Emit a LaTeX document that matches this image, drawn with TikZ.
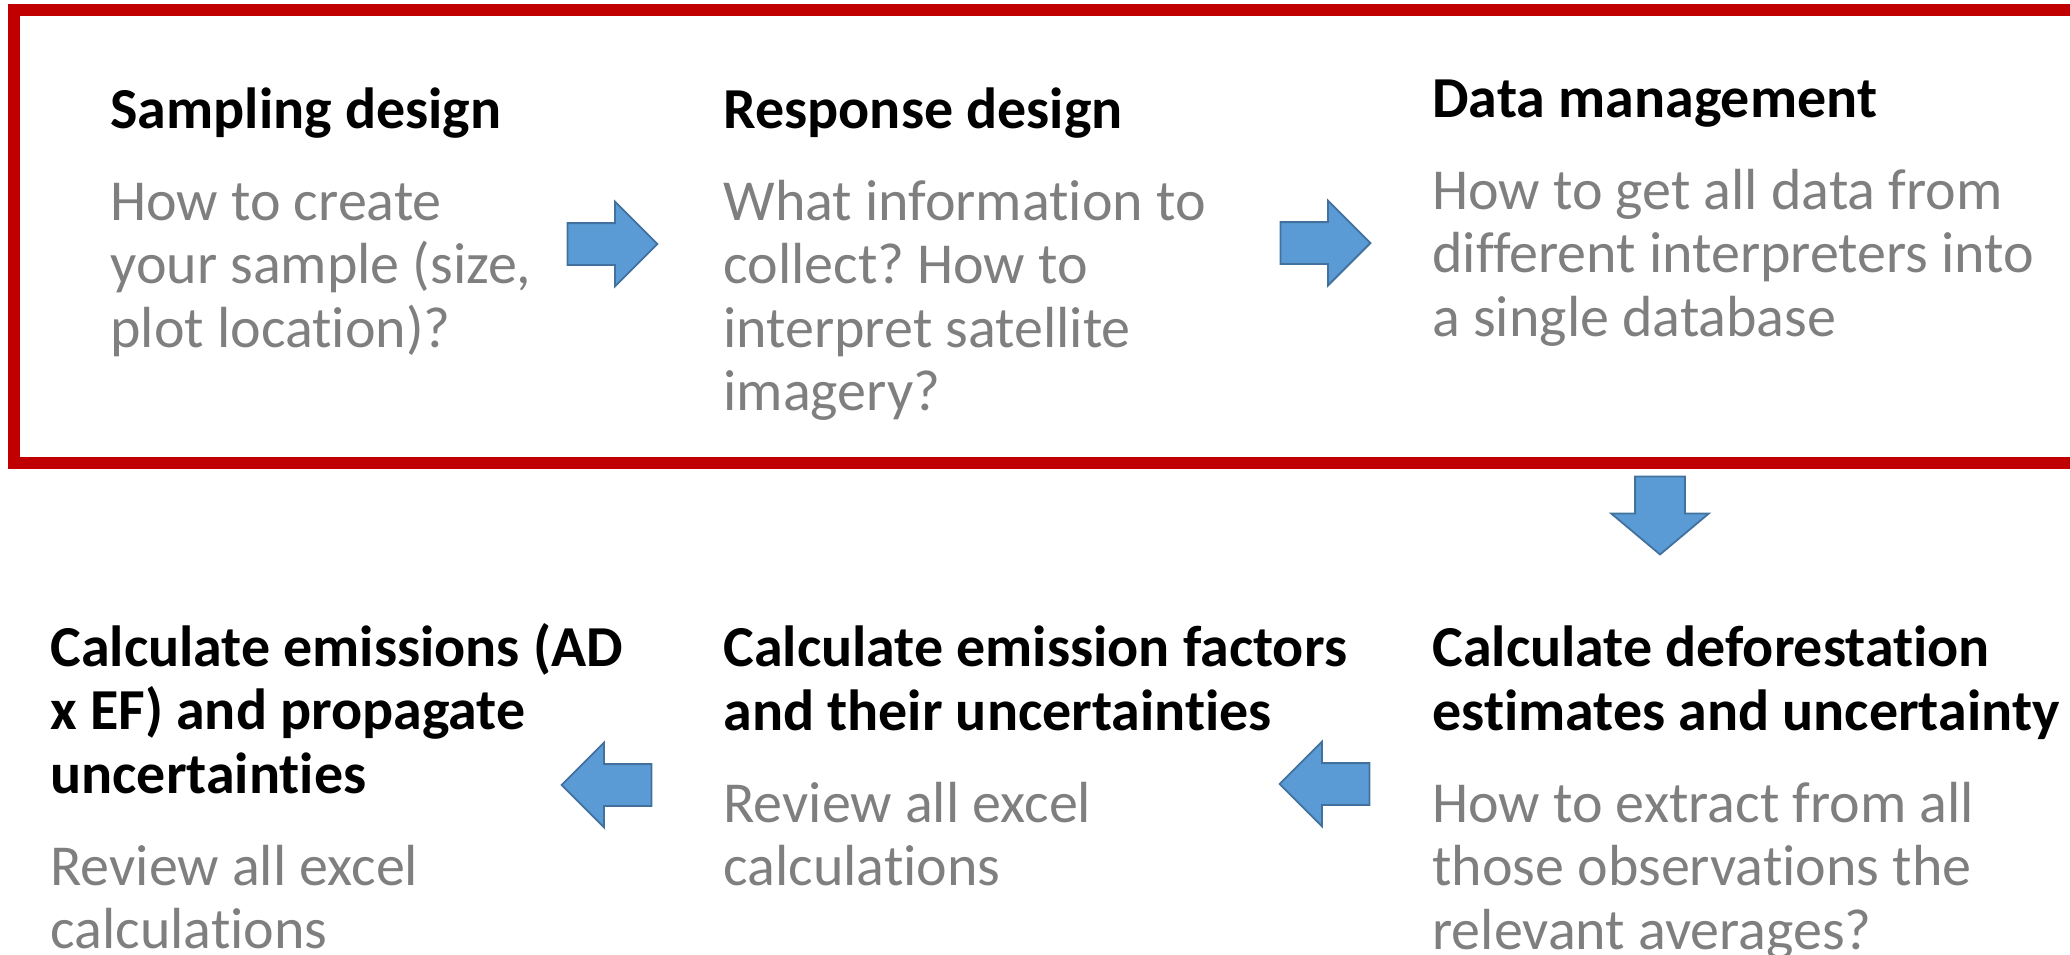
\documentclass[tikz,border=0pt]{standalone}
\usepackage{fontspec}
\setmainfont{Carlito}[Ligatures=NoCommon]
\frenchspacing
\usetikzlibrary{positioning,shapes.arrows}
\definecolor{ink}{RGB}{0,0,0}
\definecolor{note}{RGB}{127,127,127}
\definecolor{redline}{RGB}{192,0,0}
\definecolor{blufill}{RGB}{91,155,213}
\definecolor{bluline}{RGB}{65,113,156}
\tikzset{
  head/.style={anchor=base west,inner sep=0pt,align=left,text=ink,
    font=\fontsize{29pt}{31.75pt}\selectfont\bfseries},
  desc/.style={inner sep=0pt,align=left,text=note,
    font=\fontsize{29pt}{31.75pt}\selectfont},
  blk/.style={single arrow,draw=bluline,fill=blufill,line width=0.9pt,
    inner xsep=0pt,inner ysep=10pt,single arrow head extend=10.75pt,
    minimum height=45pt},
  frame/.style={draw=redline,line width=6pt},
}

\begin{document}
\begin{tikzpicture}[x=0.5pt,y=-0.5pt]
  \useasboundingbox (0,0) rectangle (2070,954);
  \draw[frame] (13.5,10) rectangle (2130,463);
  % top row: design steps
  \node[head] (samp) at (110,128) {Sampling design};
  \node[desc,below=109.5pt of samp.base west,anchor=base west] (sampT)
    {How to create\\your sample (size,\\plot location)?};
  \node[head] (resp) at (723,128) {Response design};
  \node[desc,below=141.25pt of resp.base west,anchor=base west] (respT)
    {What information to\\collect? How to\\interpret satellite\\imagery?};
  \node[head] (data) at (1432,117) {Data management};
  \node[desc,below=109.5pt of data.base west,anchor=base west] (dataT)
    {How to get all data from\\different interpreters into\\a single database};
  % bottom row: calculations
  \node[head] (defo) at (1432,730) {Calculate deforestation\\estimates and uncertainty};
  \node[desc,below=109.5pt of defo.base west,anchor=base west] (defoT)
    {How to extract from all\\those observations the\\relevant averages?};
  \node[head] (fact) at (723,730) {Calculate emission factors\\and their uncertainties};
  \node[desc,below=77.75pt of fact.base west,anchor=base west] (factT)
    {Review all excel\\calculations};
  \node[head] (emis) at (50,793) {Calculate emissions (AD\\x EF) and propagate\\uncertainties};
  \node[desc,below=77.75pt of emis.base west,anchor=base west] (emisT)
    {Review all excel\\calculations};
  % block arrows
  \node[blk] (a1) at (602,244) {};
  \node[blk] (a2) at (1315,243) {};
  \node[blk,rotate=-90,minimum height=39pt,inner ysep=12pt,
    single arrow head extend=12pt,single arrow tip angle=100] (a3) at (1660,505) {};
  \node[blk,rotate=180] (a4) at (1335,784) {};
  \node[blk,rotate=180] (a5) at (617,785) {};
\end{tikzpicture}
\end{document}
